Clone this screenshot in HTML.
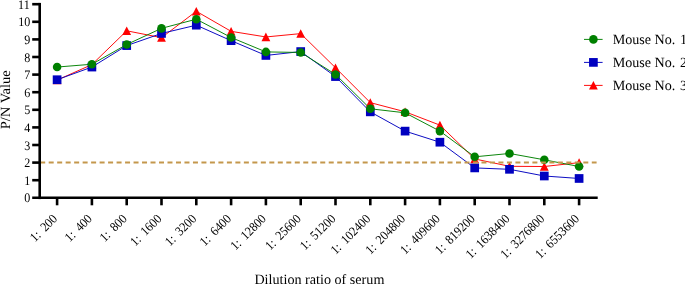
<!DOCTYPE html>
<html><head><meta charset="utf-8"><style>html,body{margin:0;padding:0;background:#fff;}svg{display:block;text-rendering:geometricPrecision;will-change:transform;font-family:"Liberation Serif",serif;font-size:14px;fill:#000;}</style></head><body>
<svg width="685" height="284" viewBox="0 0 685 284">
<rect width="685" height="284" fill="#fff"/>
<polyline points="57.10,80.08 91.90,64.59 126.70,30.80 161.50,37.67 196.30,11.27 231.10,31.33 265.90,36.96 300.70,33.62 335.50,67.76 370.30,102.61 405.10,111.76 439.90,125.14 474.70,158.93 509.50,166.32 544.30,166.50 579.10,162.63" fill="none" stroke="#FF0000" stroke-width="0.95"/>
<polygon points="57.10,75.73 52.70,84.28 61.50,84.28" fill="#FF0000"/>
<polygon points="91.90,60.24 87.50,68.79 96.30,68.79" fill="#FF0000"/>
<polygon points="126.70,26.45 122.30,35.00 131.10,35.00" fill="#FF0000"/>
<polygon points="161.50,33.32 157.10,41.87 165.90,41.87" fill="#FF0000"/>
<polygon points="196.30,6.92 191.90,15.47 200.70,15.47" fill="#FF0000"/>
<polygon points="231.10,26.98 226.70,35.53 235.50,35.53" fill="#FF0000"/>
<polygon points="265.90,32.61 261.50,41.16 270.30,41.16" fill="#FF0000"/>
<polygon points="300.70,29.27 296.30,37.82 305.10,37.82" fill="#FF0000"/>
<polygon points="335.50,63.41 331.10,71.96 339.90,71.96" fill="#FF0000"/>
<polygon points="370.30,98.26 365.90,106.81 374.70,106.81" fill="#FF0000"/>
<polygon points="405.10,107.41 400.70,115.96 409.50,115.96" fill="#FF0000"/>
<polygon points="439.90,120.79 435.50,129.34 444.30,129.34" fill="#FF0000"/>
<polygon points="474.70,154.58 470.30,163.13 479.10,163.13" fill="#FF0000"/>
<polygon points="509.50,161.97 505.10,170.52 513.90,170.52" fill="#FF0000"/>
<polygon points="544.30,162.15 539.90,170.70 548.70,170.70" fill="#FF0000"/>
<polygon points="579.10,158.28 574.70,166.83 583.50,166.83" fill="#FF0000"/>
<polyline points="57.10,79.73 91.90,67.06 126.70,45.59 161.50,33.44 196.30,25.17 231.10,40.66 265.90,55.44 300.70,51.57 335.50,76.56 370.30,111.85 405.10,131.12 439.90,142.21 474.70,167.91 509.50,169.31 544.30,176.00 579.10,178.47" fill="none" stroke="#0000C0" stroke-width="0.95"/>
<rect x="52.75" y="75.38" width="8.7" height="8.7" fill="#0000C0"/>
<rect x="87.55" y="62.71" width="8.7" height="8.7" fill="#0000C0"/>
<rect x="122.35" y="41.24" width="8.7" height="8.7" fill="#0000C0"/>
<rect x="157.15" y="29.09" width="8.7" height="8.7" fill="#0000C0"/>
<rect x="191.95" y="20.82" width="8.7" height="8.7" fill="#0000C0"/>
<rect x="226.75" y="36.31" width="8.7" height="8.7" fill="#0000C0"/>
<rect x="261.55" y="51.09" width="8.7" height="8.7" fill="#0000C0"/>
<rect x="296.35" y="47.22" width="8.7" height="8.7" fill="#0000C0"/>
<rect x="331.15" y="72.21" width="8.7" height="8.7" fill="#0000C0"/>
<rect x="365.95" y="107.50" width="8.7" height="8.7" fill="#0000C0"/>
<rect x="400.75" y="126.77" width="8.7" height="8.7" fill="#0000C0"/>
<rect x="435.55" y="137.86" width="8.7" height="8.7" fill="#0000C0"/>
<rect x="470.35" y="163.56" width="8.7" height="8.7" fill="#0000C0"/>
<rect x="505.15" y="164.96" width="8.7" height="8.7" fill="#0000C0"/>
<rect x="539.95" y="171.65" width="8.7" height="8.7" fill="#0000C0"/>
<rect x="574.75" y="174.12" width="8.7" height="8.7" fill="#0000C0"/>
<polyline points="57.10,67.06 91.90,64.24 126.70,44.53 161.50,28.34 196.30,19.19 231.10,37.49 265.90,51.92 300.70,52.45 335.50,74.45 370.30,108.77 405.10,112.82 439.90,131.12 474.70,156.82 509.50,153.47 544.30,159.81 579.10,166.50" fill="none" stroke="#008000" stroke-width="0.95"/>
<circle cx="57.10" cy="67.06" r="4.3" fill="#008000"/>
<circle cx="91.90" cy="64.24" r="4.3" fill="#008000"/>
<circle cx="126.70" cy="44.53" r="4.3" fill="#008000"/>
<circle cx="161.50" cy="28.34" r="4.3" fill="#008000"/>
<circle cx="196.30" cy="19.19" r="4.3" fill="#008000"/>
<circle cx="231.10" cy="37.49" r="4.3" fill="#008000"/>
<circle cx="265.90" cy="51.92" r="4.3" fill="#008000"/>
<circle cx="300.70" cy="52.45" r="4.3" fill="#008000"/>
<circle cx="335.50" cy="74.45" r="4.3" fill="#008000"/>
<circle cx="370.30" cy="108.77" r="4.3" fill="#008000"/>
<circle cx="405.10" cy="112.82" r="4.3" fill="#008000"/>
<circle cx="439.90" cy="131.12" r="4.3" fill="#008000"/>
<circle cx="474.70" cy="156.82" r="4.3" fill="#008000"/>
<circle cx="509.50" cy="153.47" r="4.3" fill="#008000"/>
<circle cx="544.30" cy="159.81" r="4.3" fill="#008000"/>
<circle cx="579.10" cy="166.50" r="4.3" fill="#008000"/>
<line x1="40.2" y1="162.50" x2="596.6" y2="162.50" stroke="#C4974C" stroke-width="1.8" stroke-dasharray="5 3.486"/>
<g stroke="#000" stroke-width="2.6" fill="none">
<line x1="39.7" y1="2.90" x2="39.7" y2="199.10"/>
<line x1="32.2" y1="197.70000000000002" x2="597.7" y2="197.70000000000002"/>
<line x1="32.2" y1="180.20" x2="39.7" y2="180.20"/>
<line x1="32.2" y1="162.60" x2="39.7" y2="162.60"/>
<line x1="32.2" y1="145.00" x2="39.7" y2="145.00"/>
<line x1="32.2" y1="127.40" x2="39.7" y2="127.40"/>
<line x1="32.2" y1="109.80" x2="39.7" y2="109.80"/>
<line x1="32.2" y1="92.20" x2="39.7" y2="92.20"/>
<line x1="32.2" y1="74.60" x2="39.7" y2="74.60"/>
<line x1="32.2" y1="57.00" x2="39.7" y2="57.00"/>
<line x1="32.2" y1="39.40" x2="39.7" y2="39.40"/>
<line x1="32.2" y1="21.80" x2="39.7" y2="21.80"/>
<line x1="32.2" y1="4.20" x2="39.7" y2="4.20"/>
<line x1="57.10" y1="197.8" x2="57.10" y2="205.3"/>
<line x1="91.90" y1="197.8" x2="91.90" y2="205.3"/>
<line x1="126.70" y1="197.8" x2="126.70" y2="205.3"/>
<line x1="161.50" y1="197.8" x2="161.50" y2="205.3"/>
<line x1="196.30" y1="197.8" x2="196.30" y2="205.3"/>
<line x1="231.10" y1="197.8" x2="231.10" y2="205.3"/>
<line x1="265.90" y1="197.8" x2="265.90" y2="205.3"/>
<line x1="300.70" y1="197.8" x2="300.70" y2="205.3"/>
<line x1="335.50" y1="197.8" x2="335.50" y2="205.3"/>
<line x1="370.30" y1="197.8" x2="370.30" y2="205.3"/>
<line x1="405.10" y1="197.8" x2="405.10" y2="205.3"/>
<line x1="439.90" y1="197.8" x2="439.90" y2="205.3"/>
<line x1="474.70" y1="197.8" x2="474.70" y2="205.3"/>
<line x1="509.50" y1="197.8" x2="509.50" y2="205.3"/>
<line x1="544.30" y1="197.8" x2="544.30" y2="205.3"/>
<line x1="579.10" y1="197.8" x2="579.10" y2="205.3"/>
</g>
<text transform="translate(30.3,201.50) scale(0.93,1)" text-anchor="end" font-size="13">0</text>
<text transform="translate(30.3,184.70) scale(0.93,1)" text-anchor="end" font-size="13">1</text>
<text transform="translate(30.3,167.10) scale(0.93,1)" text-anchor="end" font-size="13">2</text>
<text transform="translate(30.3,149.50) scale(0.93,1)" text-anchor="end" font-size="13">3</text>
<text transform="translate(30.3,131.90) scale(0.93,1)" text-anchor="end" font-size="13">4</text>
<text transform="translate(30.3,114.30) scale(0.93,1)" text-anchor="end" font-size="13">5</text>
<text transform="translate(30.3,96.70) scale(0.93,1)" text-anchor="end" font-size="13">6</text>
<text transform="translate(30.3,79.10) scale(0.93,1)" text-anchor="end" font-size="13">7</text>
<text transform="translate(30.3,61.50) scale(0.93,1)" text-anchor="end" font-size="13">8</text>
<text transform="translate(30.3,43.90) scale(0.93,1)" text-anchor="end" font-size="13">9</text>
<text transform="translate(30.3,26.30) scale(0.93,1)" text-anchor="end" font-size="13">10</text>
<text transform="translate(29.7,8.70) scale(0.93,1)" text-anchor="end" font-size="13">11</text>
<text transform="translate(58.00,219.5) rotate(-45) scale(0.915,1)" text-anchor="end" font-size="13" word-spacing="2.6">1: 200</text>
<text transform="translate(92.80,219.5) rotate(-45) scale(0.915,1)" text-anchor="end" font-size="13" word-spacing="2.6">1: 400</text>
<text transform="translate(127.60,219.5) rotate(-45) scale(0.915,1)" text-anchor="end" font-size="13" word-spacing="2.6">1: 800</text>
<text transform="translate(162.40,219.5) rotate(-45) scale(0.915,1)" text-anchor="end" font-size="13" word-spacing="2.6">1: 1600</text>
<text transform="translate(197.20,219.5) rotate(-45) scale(0.915,1)" text-anchor="end" font-size="13" word-spacing="2.6">1: 3200</text>
<text transform="translate(232.00,219.5) rotate(-45) scale(0.915,1)" text-anchor="end" font-size="13" word-spacing="2.6">1: 6400</text>
<text transform="translate(266.80,219.5) rotate(-45) scale(0.915,1)" text-anchor="end" font-size="13" word-spacing="2.6">1: 12800</text>
<text transform="translate(301.60,219.5) rotate(-45) scale(0.915,1)" text-anchor="end" font-size="13" word-spacing="2.6">1: 25600</text>
<text transform="translate(336.40,219.5) rotate(-45) scale(0.915,1)" text-anchor="end" font-size="13" word-spacing="2.6">1: 51200</text>
<text transform="translate(371.20,219.5) rotate(-45) scale(0.915,1)" text-anchor="end" font-size="13" word-spacing="2.6">1: 102400</text>
<text transform="translate(406.00,219.5) rotate(-45) scale(0.915,1)" text-anchor="end" font-size="13" word-spacing="2.6">1: 204800</text>
<text transform="translate(440.80,219.5) rotate(-45) scale(0.915,1)" text-anchor="end" font-size="13" word-spacing="2.6">1: 409600</text>
<text transform="translate(475.60,219.5) rotate(-45) scale(0.915,1)" text-anchor="end" font-size="13" word-spacing="2.6">1: 819200</text>
<text transform="translate(510.40,219.5) rotate(-45) scale(0.915,1)" text-anchor="end" font-size="13" word-spacing="2.6">1: 1638400</text>
<text transform="translate(545.20,219.5) rotate(-45) scale(0.915,1)" text-anchor="end" font-size="13" word-spacing="2.6">1: 3276800</text>
<text transform="translate(580.00,219.5) rotate(-45) scale(0.915,1)" text-anchor="end" font-size="13" word-spacing="2.6">1: 6553600</text>
<text transform="translate(9.9,99.8) rotate(-90) scale(1.035,1)" text-anchor="middle">P/N Value</text>
<text x="319.4" y="283.8" text-anchor="middle" font-size="14.15">Dilution ratio of serum</text>
<line x1="584.0" y1="39.40" x2="602.6" y2="39.40" stroke="#008000" stroke-width="0.95"/>
<circle cx="593.4" cy="39.40" r="4.3" fill="#008000"/>
<text x="612.7" font-size="14.1" y="44.00">Mouse No. <tspan dx="1.1">1</tspan></text>
<line x1="584.0" y1="62.40" x2="602.6" y2="62.40" stroke="#0000C0" stroke-width="0.95"/>
<rect x="589.05" y="58.05" width="8.7" height="8.7" fill="#0000C0"/>
<text x="612.7" font-size="14.1" y="67.00">Mouse No. <tspan dx="1.1">2</tspan></text>
<line x1="584.0" y1="85.40" x2="602.6" y2="85.40" stroke="#FF0000" stroke-width="0.95"/>
<polygon points="593.40,81.05 589.00,89.60 597.80,89.60" fill="#FF0000"/>
<text x="612.7" font-size="14.1" y="90.00">Mouse No. <tspan dx="1.1">3</tspan></text>
</svg></body></html>
